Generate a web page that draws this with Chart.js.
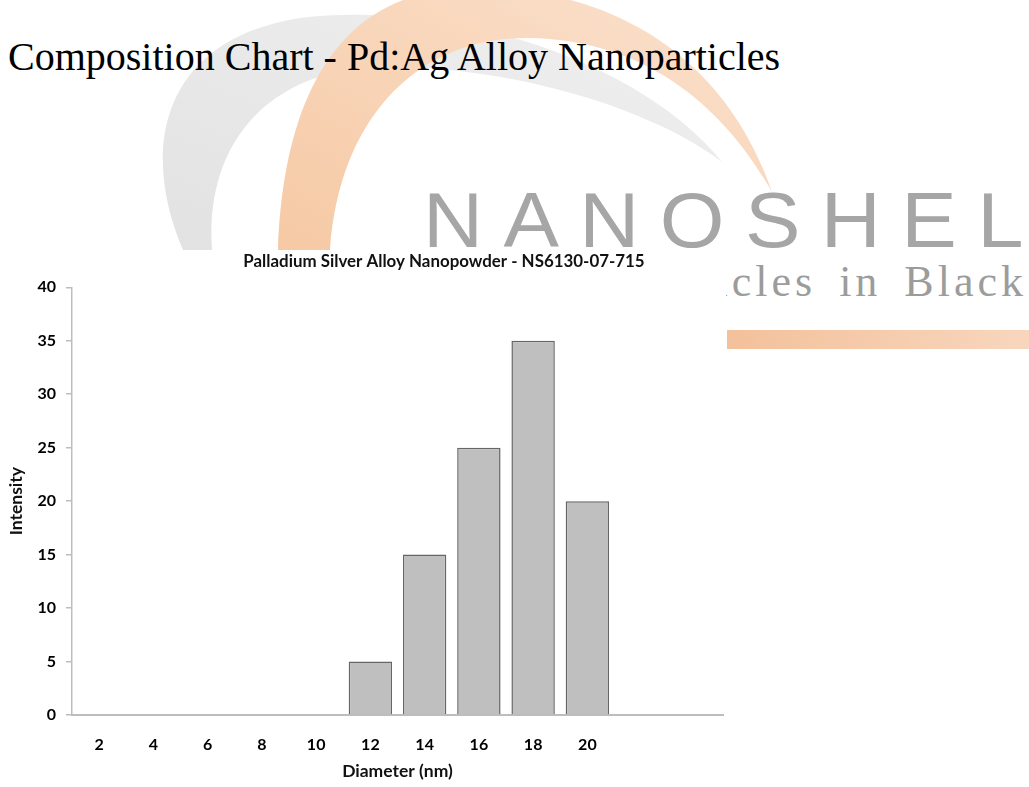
<!DOCTYPE html>
<html>
<head>
<meta charset="utf-8">
<script src="https://cdn.jsdelivr.net/npm/chart.js@4.4.1/dist/chart.umd.min.js"></script>
<style>
  html, body { margin: 0; padding: 0; background: #ffffff; overflow: hidden; }
  #wrap { position: relative; width: 1029px; height: 787px; }
  #bg { position: absolute; left: 0; top: 0; }
  #c { position: absolute; left: 0; top: 250px; }
</style>
</head>
<body>
<div id="wrap">
  <svg id="bg" width="1029" height="787" xmlns="http://www.w3.org/2000/svg">
    <defs>
      <linearGradient id="og" x1="0" y1="1" x2="1" y2="0">
        <stop offset="0" stop-color="#f6c9a4"/>
        <stop offset="1" stop-color="#fbe2cf"/>
      </linearGradient>
      <linearGradient id="gg" x1="0" y1="1" x2="1" y2="0">
        <stop offset="0" stop-color="#e2e2e2"/>
        <stop offset="1" stop-color="#f0f0f0"/>
      </linearGradient>
      <linearGradient id="bar" x1="0" y1="0" x2="1" y2="0">
        <stop offset="0" stop-color="#f3c19b"/>
        <stop offset="1" stop-color="#f8d6bd"/>
      </linearGradient>
    </defs>
    <path d="M183,250 C140,150 160,40 300,18 C450,0 640,60 722,162 C640,100 480,60 360,68 C260,80 205,150 212,250 Z" fill="url(#gg)"/>
    <path d="M278,250 C283,110 330,-10 470,-12 C610,-14 725,55 772,192 C720,100 640,40 530,38 C425,36 340,110 330,250 Z" fill="url(#og)"/>
    <text x="423" y="247" font-family="Liberation Sans" font-size="77" fill="#a6a6a6" transform="translate(423,0) scale(1.08,1) translate(-423,0)" textLength="556" lengthAdjust="spacing">NANOSHEL</text>
    <text x="1027" y="296" text-anchor="end" font-family="Liberation Serif" font-size="44" fill="#9c9c9c" letter-spacing="4" word-spacing="8">Nanoparticles in Black</text>
    <rect x="727" y="330" width="302" height="19" fill="url(#bar)"/>
    <text x="8" y="70" font-family="Liberation Serif" font-size="40" fill="#000000">Composition Chart - Pd:Ag Alloy Nanoparticles</text>
  </svg>
  <canvas id="c" width="888" height="537"></canvas>
</div>
<script>
// ---- data ----
const categories = ['2', '4', '6', '8', '10', '12', '14', '16', '18', '20', '', ''];
const intensity = [0, 0, 0, 0, 0, 5, 15, 25, 35, 20, null, null];
const yMin = 0;
const yMax = 40;
const yStep = 5;
const chartTitle = 'Palladium Silver Alloy Nanopowder - NS6130-07-715';
const xTitle = 'Diameter (nm)';
const yTitle = 'Intensity';

const labelFont = { family: 'Lato', weight: 'bold', size: 16 };
const titleFont = { family: 'Lato', weight: 'bold', size: 16.9 };
const axisTitleFont = { family: 'Lato', weight: 'bold', size: 17.5 };
const axisGray = '#bdbdbd';

const whiteBg = {
  id: 'whiteBg',
  beforeDraw(chart) {
    const ctx = chart.ctx;
    ctx.save();
    ctx.fillStyle = '#ffffff';
    ctx.fillRect(0, 0, 726, chart.height);
    ctx.restore();
  }
};

new Chart(document.getElementById('c'), {
  type: 'bar',
  data: {
    labels: categories,
    datasets: [{
      data: intensity,
      yAxisID: 'y',
      backgroundColor: '#bfbfbf',
      borderColor: '#666666',
      borderWidth: 1.5,
      categoryPercentage: 0.8,
      barPercentage: 1.0
    }]
  },
  options: {
    responsive: false,
    animation: false,
    devicePixelRatio: 1,
    layout: { padding: 0 },
    plugins: {
      legend: { display: false },
      tooltip: { enabled: false },
      title: {
        display: true,
        text: chartTitle,
        color: '#111111',
        font: titleFont,
        padding: { top: 1, bottom: 16 }
      }
    },
    scales: {
      x: {
        grid: { display: false, drawTicks: false },
        border: { display: true, color: axisGray, width: 2 },
        ticks: { color: '#000000', font: labelFont, padding: 20, autoSkip: false, maxRotation: 0 },
        title: { display: true, text: xTitle, color: '#111111', font: axisTitleFont, padding: { top: 0, bottom: 5 } },
        afterFit(scale) { scale.height = 72; }
      },
      y: {
        position: 'left',
        min: yMin,
        max: yMax,
        ticks: { stepSize: yStep, color: '#000000', font: labelFont, padding: 10 },
        grid: { drawOnChartArea: false, tickLength: 6, color: axisGray, lineWidth: 1.5 },
        border: { display: true, color: axisGray, width: 1.5 },
        title: { display: true, text: yTitle, color: '#111111', font: axisTitleFont, padding: { top: 6, bottom: 0 } },
        afterFit(scale) { scale.width = 72; }
      },
      spacer: {
        type: 'linear',
        axis: 'y',
        position: 'right',
        min: yMin,
        max: yMax,
        ticks: { display: false },
        grid: { display: false, drawTicks: false },
        border: { display: false },
        afterFit(scale) { scale.width = 165; }
      }
    }
  },
  plugins: [whiteBg]
});
</script>
</body>
</html>
